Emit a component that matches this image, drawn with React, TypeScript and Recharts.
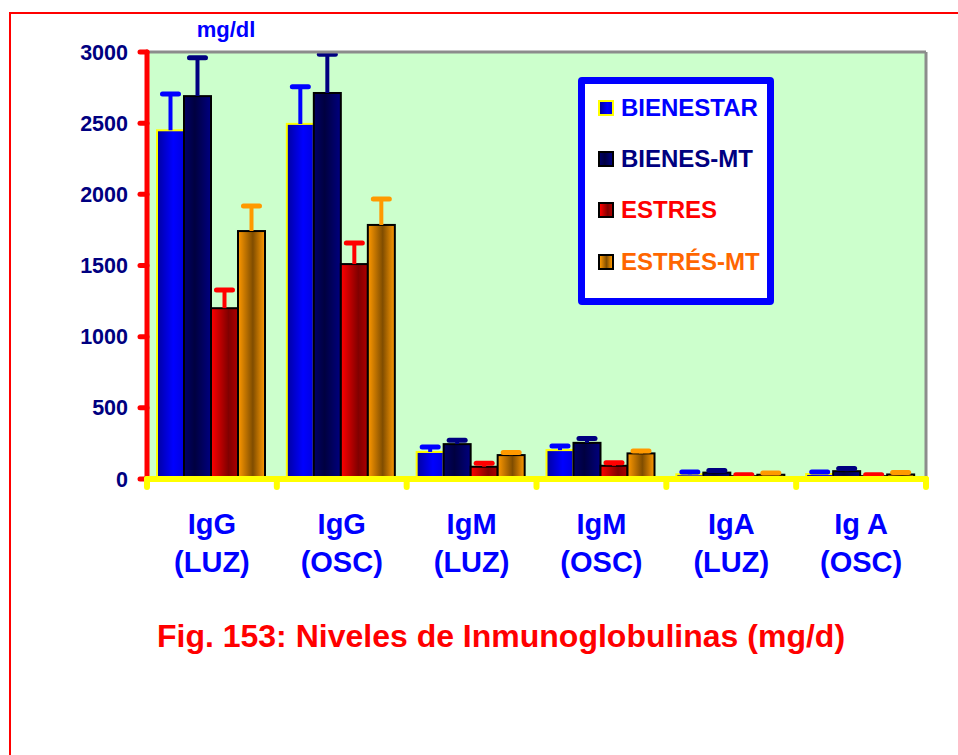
import React from 'react';
import { BarChart, Bar, XAxis, YAxis, CartesianGrid, Legend, ReferenceLine } from 'recharts';

const FONT = 'Arial, "Liberation Sans", Helvetica, sans-serif';

const labelTop = ['IgG', 'IgG', 'IgM', 'IgM', 'IgA', 'Ig A'];
const labelBottom = ['(LUZ)', '(OSC)', '(LUZ)', '(OSC)', '(LUZ)', '(OSC)'];
const seriesNames = ['BIENESTAR', 'BIENES-MT', 'ESTRES', 'ESTRÉS-MT'];

const bienestar = [2450, 2495, 190, 203, 33, 35];
const bienestarErr = [255, 260, 35, 28, 16, 15];
const bienesMt = [2690, 2712, 245, 254, 45, 55];
const bienesMtErr = [270, 272, 28, 31, 15, 18];
const estres = [1200, 1510, 86, 93, 20, 20];
const estresErr = [128, 148, 24, 21, 10, 10];
const estresMt = [1742, 1785, 168, 180, 30, 32];
const estresMtErr = [176, 182, 19, 16, 12, 14];

const yTicks = [0, 500, 1000, 1500, 2000, 2500, 3000];
const yMax = 3000;

const categories = labelTop.map((t, i) => `${t} ${labelBottom[i]}`);

const data = categories.map((name, i) => ({
  name,
  b: bienestar[i],
  bErr: bienestarErr[i],
  bm: bienesMt[i],
  bmErr: bienesMtErr[i],
  e: estres[i],
  eErr: estresErr[i],
  em: estresMt[i],
  emErr: estresMtErr[i],
}));

const seriesStyle = [
  { key: 'b', err: 'bErr', grad: 'gB', stroke: '#FFFF00', errColor: '#0000FF', text: '#0000FF',
    css: 'linear-gradient(to right, #0000A0, #0000FF 60%, #0000E0)' },
  { key: 'bm', err: 'bmErr', grad: 'gBM', stroke: '#000000', errColor: '#000080', text: '#000080',
    css: 'linear-gradient(to right, #000066, #000040 40%, #000080)' },
  { key: 'e', err: 'eErr', grad: 'gE', stroke: '#000000', errColor: '#FF0000', text: '#FF0000',
    css: 'linear-gradient(to right, #FF0000, #800000 65%, #B00000)' },
  { key: 'em', err: 'emErr', grad: 'gEM', stroke: '#000000', errColor: '#FF9900', text: '#FF6600',
    css: 'linear-gradient(to right, #FF9900, #804D00 55%, #FF9900)' },
];

const makeShape = (s: any) => (props: any) => {
  const { x, y, width, height, payload } = props;
  const v = payload[s.key];
  const pxPerUnit = v ? height / v : 0;
  const e = payload[s.err] * pxPerUnit;
  const cx = x + width / 2;
  return (
    <g>
      <rect x={x} y={y} width={width} height={height} fill={`url(#${s.grad})`} stroke={s.stroke} strokeWidth={2} />
      <line x1={cx} x2={cx} y1={y} y2={y - e} stroke={s.errColor} strokeWidth={4} />
      <line x1={cx - 8} x2={cx + 8} y1={y - e} y2={y - e} stroke={s.errColor} strokeWidth={5} strokeLinecap="round" />
    </g>
  );
};

const renderXTick = (props: any) => {
  const { x, y, index, width, visibleTicksCount } = props;
  const band = width / visibleTicksCount;
  const lines = [x - band / 2];
  if (index === visibleTicksCount - 1) lines.push(x + band / 2);
  return (
    <g>
      {lines.map((lx, i) => (
        <line key={i} x1={lx} x2={lx} y1={y} y2={y + 8} stroke="#FFFF00" strokeWidth={6} strokeLinecap="round" />
      ))}
      <text x={x} y={y + 55} textAnchor="middle" fill="#0000FF" fontSize={29} fontWeight="bold" fontFamily={FONT}>
        {labelTop[index]}
      </text>
      <text x={x} y={y + 93} textAnchor="middle" fill="#0000FF" fontSize={29} fontWeight="bold" fontFamily={FONT}>
        {labelBottom[index]}
      </text>
    </g>
  );
};

const renderLegend = () => (
  <div
    style={{
      boxSizing: 'border-box',
      width: 196,
      height: 228,
      border: '7px solid #0000FF',
      borderRadius: 4,
      background: '#FFFFFF',
      fontFamily: FONT,
    }}
  >
    <div style={{ marginTop: -2 }}>
      {seriesNames.map((n, i) => (
        <div key={n} style={{ display: 'flex', alignItems: 'center', height: 51.3, paddingLeft: 13 }}>
          <div
            style={{
              boxSizing: 'border-box',
              width: 16,
              height: 16,
              border: `2px solid ${seriesStyle[i].stroke}`,
              background: seriesStyle[i].css,
              marginRight: 7,
              flexShrink: 0,
            }}
          />
          <span style={{ color: seriesStyle[i].text, fontSize: 24, fontWeight: 'bold', whiteSpace: 'nowrap' }}>{n}</span>
        </div>
      ))}
    </div>
  </div>
);

export default function App() {
  return (
    <div style={{ position: 'absolute', left: 0, top: 0, width: 958, height: 755, background: '#FFFFFF', overflow: 'hidden' }}>
      <div
        style={{
          position: 'absolute',
          left: 9,
          top: 12,
          width: 960,
          height: 760,
          borderTop: '2px solid #FF0000',
          borderLeft: '2px solid #FF0000',
        }}
      />
      <div style={{ position: 'absolute', left: 0, top: 0 }}>
        <BarChart
          width={958}
          height={755}
          data={data}
          margin={{ top: 52, right: 30, left: 87, bottom: 176 }}
          barCategoryGap="7.7%"
          barGap={0}
        >
          <defs>
            <linearGradient id="gB" x1="0" y1="0" x2="1" y2="0">
              <stop offset="0" stopColor="#0000A0" />
              <stop offset="0.6" stopColor="#0000FF" />
              <stop offset="1" stopColor="#0000E0" />
            </linearGradient>
            <linearGradient id="gBM" x1="0" y1="0" x2="1" y2="0">
              <stop offset="0" stopColor="#000066" />
              <stop offset="0.4" stopColor="#000040" />
              <stop offset="1" stopColor="#000080" />
            </linearGradient>
            <linearGradient id="gE" x1="0" y1="0" x2="1" y2="0">
              <stop offset="0" stopColor="#FF0000" />
              <stop offset="0.65" stopColor="#800000" />
              <stop offset="1" stopColor="#B00000" />
            </linearGradient>
            <linearGradient id="gEM" x1="0" y1="0" x2="1" y2="0">
              <stop offset="0" stopColor="#FF9900" />
              <stop offset="0.55" stopColor="#804D00" />
              <stop offset="1" stopColor="#FF9900" />
            </linearGradient>
          </defs>
          <CartesianGrid fill="#CCFFCC" horizontal={false} vertical={false} stroke="none" />
          <ReferenceLine y={yMax} stroke="#8C8C8C" strokeWidth={3} />
          {seriesStyle.map((s, i) => (
            <Bar
              key={s.key}
              dataKey={s.key}
              name={seriesNames[i]}
              fill={s.errColor}
              shape={makeShape(s)}
              isAnimationActive={false}
            />
          ))}
          <YAxis
            domain={[0, yMax]}
            ticks={yTicks}
            interval={0}
            width={60}
            allowDataOverflow
            axisLine={{ stroke: '#FF0000', strokeWidth: 5, strokeLinecap: 'round' }}
            tickLine={{ stroke: '#FF0000', strokeWidth: 5, strokeLinecap: 'round' }}
            tickSize={7}
            tickMargin={12}
            tick={{ fill: '#000080', fontSize: 21.5, fontWeight: 'bold', fontFamily: FONT }}
          />
          <YAxis
            yAxisId="r"
            orientation="right"
            width={2}
            domain={[0, yMax]}
            ticks={yTicks}
            tick={false}
            tickLine={false}
            axisLine={{ stroke: '#8C8C8C', strokeWidth: 3 }}
          />
          <XAxis
            dataKey="name"
            height={100}
            interval={0}
            tickSize={0}
            tickMargin={0}
            tickLine={false}
            axisLine={{ stroke: '#FFFF00', strokeWidth: 6, strokeLinecap: 'round' }}
            tick={renderXTick}
          />
          <Legend
            layout="vertical"
            align="center"
            verticalAlign="middle"
            wrapperStyle={{ left: 578, top: 77, width: 196, height: 228 }}
            content={renderLegend}
          />
        </BarChart>
      </div>
      <div
        style={{
          position: 'absolute',
          left: 176,
          top: 19.4,
          width: 100,
          textAlign: 'center',
          fontFamily: FONT,
          fontSize: 22,
          lineHeight: '22px',
          fontWeight: 'bold',
          color: '#0000FF',
        }}
      >
        mg/dl
      </div>
      <div
        style={{
          position: 'absolute',
          left: 101,
          top: 620,
          width: 800,
          textAlign: 'center',
          fontFamily: FONT,
          fontSize: 32,
          lineHeight: '32px',
          fontWeight: 'bold',
          color: '#FF0000',
          whiteSpace: 'nowrap',
        }}
      >
        Fig. 153: Niveles de Inmunoglobulinas (mg/d)
      </div>
    </div>
  );
}
